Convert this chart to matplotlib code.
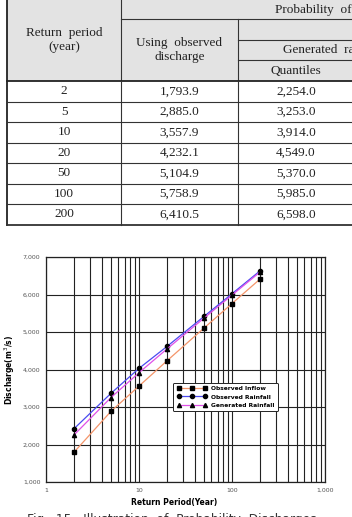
import matplotlib.pyplot as plt
from matplotlib.patches import Rectangle
from matplotlib.ticker import FixedLocator, LogLocator, NullFormatter, FuncFormatter

# table / chart data
return_period = [2, 5, 10, 20, 50, 100, 200]
observed_inflow = [1793.9, 2885.0, 3557.9, 4232.1, 5104.9, 5758.9, 6410.5]
generated_rainfall = [2254.0, 3253.0, 3914.0, 4549.0, 5370.0, 5985.0, 6598.0]
observed_rainfall = [2420, 3365, 4030, 4615, 5415, 6020, 6630]

series_labels = ["Observed Inflow", "Observed Rainfall", "Generated Rainfall"]
series_colors = ["#f4956a", "#4a4af0", "#e050e8"]
series_markers = ["s", "o", "^"]

W, H = 352, 517
fig = plt.figure(figsize=(W / 100, H / 100), dpi=100)

# ---- table drawn in pixel coords on a full-figure axes ----
tab = fig.add_axes([0, 0, 1, 1])
tab.set_xlim(0, W)
tab.set_ylim(H, 0)
tab.axis("off")

serif = "Liberation Serif"
fs = 9.5
row_h = 20.5
ink = "#222222"

tab.add_patch(Rectangle((7, 0), W, 81, facecolor="#e3e3e3", edgecolor="none"))
kw = dict(color="#333333", lw=0.8)
# header lines
tab.plot([121, W], [19, 19], **kw)
tab.plot([238, W], [40, 40], **kw)
tab.plot([238, W], [60, 60], **kw)
tab.plot([121, 121], [0, 81], **kw)
tab.plot([238, 238], [19, 81], **kw)
tab.plot([7, 7], [0, 81 + row_h * 7], color=ink, lw=1.3)
tab.plot([7, W], [81, 81], color=ink, lw=1.3)

tab.text(64, 40, "Return  period\n(year)", ha="center", va="center",
         fontsize=fs, family=serif, color=ink, linespacing=1.25)
tab.text(179.5, 50, "Using  observed\ndischarge", ha="center", va="center",
         fontsize=fs, family=serif, color=ink, linespacing=1.25)
tab.text(275, 9.5, "Probability  of  discharge", ha="left", va="center",
         fontsize=fs, family=serif, color=ink)
tab.text(283, 50, "Generated  rainfall", ha="left", va="center",
         fontsize=fs, family=serif, color=ink)
tab.text(296, 70.5, "Quantiles", ha="center", va="center",
         fontsize=fs, family=serif, color=ink)

for i, (t, q1, q2) in enumerate(zip(return_period, observed_inflow, generated_rainfall)):
    y0 = 81 + i * row_h
    yc = y0 + row_h / 2
    tab.text(64, yc, f"{t}", ha="center", va="center", fontsize=fs, family=serif, color=ink)
    tab.text(179.5, yc, f"{q1:,.1f}", ha="center", va="center", fontsize=fs, family=serif, color=ink)
    tab.text(296, yc, f"{q2:,.1f}", ha="center", va="center", fontsize=fs, family=serif, color=ink)
    lw = 1.3 if i == len(return_period) - 1 else 0.8
    tab.plot([7, W], [y0 + row_h, y0 + row_h], color="#333333", lw=lw)
tab.plot([121, 121], [81, 81 + row_h * 7], **kw)
tab.plot([238, 238], [81, 81 + row_h * 7], **kw)

# caption, only its top shows at the bottom edge; scale it to span ~291 px
cap = tab.text(27, 512.5, "Fig.  15.  Illustration  of  Probability  Discharges",
               ha="left", va="top", fontsize=10, color="#333333")
fig.canvas.draw()
w_px = cap.get_window_extent().width
cap.set_fontsize(10 * 291 / w_px)

# ---- chart ----
ax = fig.add_axes([46 / W, 1 - 482 / H, 279 / W, 225 / H])
ax.set_xscale("log")
ax.set_xlim(1, 1000)
ax.set_ylim(1000, 7000)

for vals, lab, c, m in zip([observed_inflow, observed_rainfall, generated_rainfall],
                           series_labels, series_colors, series_markers):
    ax.plot(return_period, vals, color=c, lw=0.9, marker=m, ms=3,
            mfc="black", mec="black", label=lab)

ax.xaxis.set_major_locator(FixedLocator([1, 10, 100, 1000]))
ax.xaxis.set_minor_locator(LogLocator(base=10, subs=range(2, 10)))
ax.xaxis.set_minor_formatter(NullFormatter())
ax.xaxis.set_major_formatter(FuncFormatter(lambda v, p: f"{v:,.0f}"))
ax.set_yticks(range(1000, 7001, 1000))
ax.yaxis.set_major_formatter(FuncFormatter(lambda v, p: f"{v:,.0f}"))
ax.tick_params(which="both", length=0, labelsize=4.5, labelcolor="#555555", pad=4)
ax.grid(True, which="both", color=ink, lw=0.8)
ax.set_axisbelow(True)
for s in ax.spines.values():
    s.set_color(ink)
    s.set_linewidth(0.9)

ax.set_xlabel("Return Period(Year)", fontsize=5.5, fontweight="bold")
ax.xaxis.set_label_coords(0.46, -0.07)
ax.set_ylabel("Discharge(m$^3$/s)", fontsize=5.5, fontweight="bold")
ax.yaxis.set_label_coords(-0.105, 0.5)

leg = ax.legend(loc="upper left", bbox_to_anchor=(0.445, 0.455),
                prop={"weight": "bold", "size": 4.3}, numpoints=3, handlelength=5,
                fancybox=True, framealpha=1, edgecolor=ink, borderpad=0.6,
                labelspacing=0.5)
leg.get_frame().set_linewidth(0.7)

fig.savefig("out.png", dpi=100)
